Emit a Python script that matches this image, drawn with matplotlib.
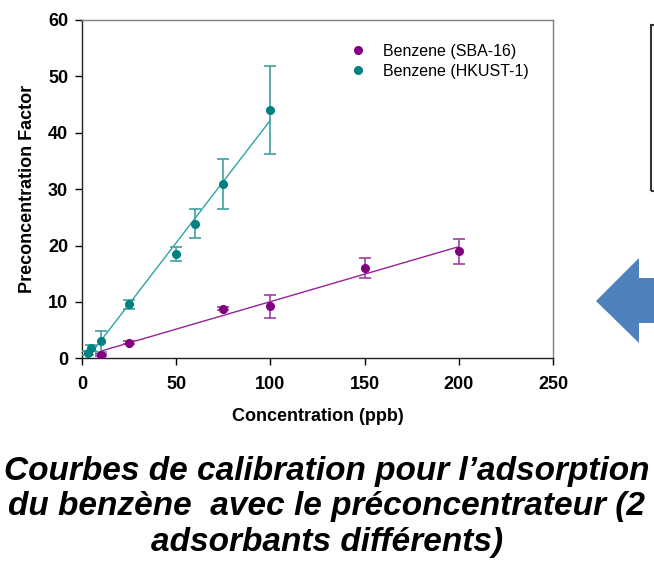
import matplotlib
matplotlib.use("Agg")
import matplotlib.pyplot as plt
import numpy as np
from matplotlib.lines import Line2D
from matplotlib.patches import Polygon, Rectangle

plt.rcParams["font.family"] = ["Liberation Sans", "DejaVu Sans"]

# Benzene (HKUST-1)
hk_x = [3, 5, 10, 25, 50, 60, 75, 100]
hk_y = [0.9, 1.8, 3.0, 9.6, 18.5, 23.9, 30.9, 44.1]
hk_err = [0.4, 0.5, 1.8, 0.8, 1.3, 2.5, 4.5, 7.8]

# Benzene (SBA-16)
sba_x = [10, 25, 75, 100, 150, 200]
sba_y = [0.6, 2.8, 8.8, 9.2, 16.0, 19.0]
sba_err = [0.2, 0.3, 0.3, 2.1, 1.8, 2.2]

x_ticks = [0, 50, 100, 150, 200, 250]
y_ticks = [0, 10, 20, 30, 40, 50, 60]

caption = ("Courbes de calibration pour l\u2019adsorption\n"
           "du benz\u00e8ne  avec le pr\u00e9concentrateur (2\n"
           "adsorbants diff\u00e9rents)")

PURPLE = "#800080"
TEAL = "#008080"

W, H = 654, 573
fig = plt.figure(figsize=(W / 100, H / 100), dpi=100)
ax = fig.add_axes([82 / W, 1 - 358.3 / H, 471 / W, 338.3 / H])

# courbes de tendance (régression linéaire)
for xs, ys, col in [(hk_x, hk_y, "#2aa5a5"), (sba_x, sba_y, "#9a1f9a")]:
    a, b = np.polyfit(xs, ys, 1)
    xx = np.array([min(xs), max(xs)])
    ax.plot(xx, a * xx + b, color=col, lw=1.0, zorder=2)

ax.errorbar(sba_x, sba_y, yerr=sba_err, fmt="o", color=PURPLE, ms=5.5,
            ecolor="#a040a0", elinewidth=1.2, capsize=4, capthick=1.2, zorder=3)
ax.errorbar(hk_x, hk_y, yerr=hk_err, fmt="o", color=TEAL, ms=5.5,
            ecolor="#40a0a0", elinewidth=1.2, capsize=4, capthick=1.2, zorder=3)

ax.set_xlim(0, 250)
ax.set_ylim(0, 60)
ax.set_xticks(x_ticks)
ax.set_yticks(y_ticks)
ax.tick_params(direction="out", length=5, width=1, labelsize=13)
ax.tick_params(axis="x", pad=7.5)
ax.tick_params(axis="y", pad=5)
for lab in ax.get_xticklabels() + ax.get_yticklabels():
    lab.set_fontweight("bold")
ax.spines["left"].set_color("#222222")
ax.spines["bottom"].set_color("#222222")
ax.spines["top"].set_color("#808080")
ax.spines["right"].set_color("#808080")
for s in ax.spines.values():
    s.set_linewidth(1.0)

ax.set_xlabel("Concentration (ppb)", fontsize=13, fontweight="bold", labelpad=11)
ax.set_ylabel("Preconcentration Factor", fontsize=13, fontweight="bold", labelpad=8.5)

handles = [
    Line2D([0], [0], marker="o", ls="none", color=PURPLE, ms=5.5, label="Benzene (SBA-16)"),
    Line2D([0], [0], marker="o", ls="none", color=TEAL, ms=5.5, label="Benzene (HKUST-1)"),
]
ax.legend(handles=handles, loc="upper left", bbox_to_anchor=(0.568, 0.9305),
          frameon=False, fontsize=11.5, handlelength=1.0, handletextpad=1.1,
          labelspacing=0.33, borderpad=0, borderaxespad=0)

fig.text(327 / W, 1 - 507 / H, caption, ha="center", va="center",
         fontsize=24, fontweight="bold", fontstyle="italic", linespacing=1.18)

# cadre et flèche à droite (éléments de la diapositive)
fig.patches.append(Rectangle((651 / W, 1 - 191 / H), 20 / W, 166 / H,
                             transform=fig.transFigure, fill=False,
                             edgecolor="#333333", lw=1.5))
arrow = [(596, 301), (639, 258), (639, 278), (660, 278),
         (660, 323), (639, 323), (639, 343)]
fig.patches.append(Polygon([(x / W, 1 - y / H) for x, y in arrow], closed=True,
                           transform=fig.transFigure, facecolor="#4F81BD",
                           edgecolor="none"))

fig.savefig("out.png", dpi=100)
